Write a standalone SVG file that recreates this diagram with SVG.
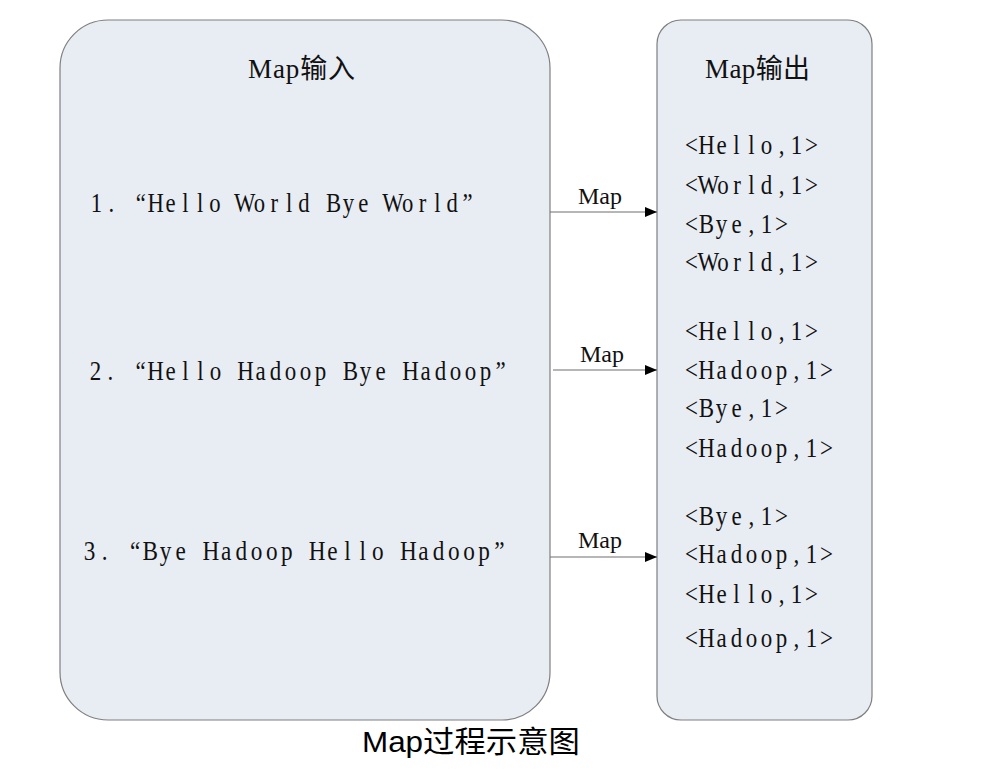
<svg xmlns="http://www.w3.org/2000/svg" width="997" height="772" viewBox="0 0 997 772">
<style>
.box{fill:#e8ecf3;stroke:#7f7f7f;stroke-width:1.2}
.t{font-family:"Liberation Serif","Noto Sans CJK SC",serif;font-size:27px;fill:#111}
.m{text-anchor:middle}
.lbl{font-family:"Liberation Serif",serif;font-size:24px;fill:#111}
.cap{font-family:"Liberation Sans","Noto Sans CJK SC",sans-serif;font-size:30px;fill:#000}
.c{stroke:#6f6f6f;stroke-width:1.2;fill:none}
</style>
<defs>
<marker id="ah" markerWidth="12" markerHeight="10" refX="12" refY="5" orient="auto" markerUnits="userSpaceOnUse">
<path d="M0,0 L12,5 L0,10 Z" fill="#000"/>
</marker>
</defs>
<rect width="997" height="772" fill="#fff"/>
<g id="map-input">
<rect class="box" x="60" y="20" width="490" height="700" rx="48" ry="48"/>
<text class="t" x="248" y="78" textLength="107" lengthAdjust="spacing">Map输入</text>
<text class="t m" transform="translate(89,212) scale(0.84,1)" y="0" x="8.82 26.47 61.76 79.41 97.06 114.71 132.35 150 167.65 185.29 202.94 220.59 238.24 255.88 273.53 291.18 308.82 326.47 344.12 361.76 379.41 397.06 414.71 432.35 450.5">1.“Hello World Bye World”</text>
<text class="t m" transform="translate(88,380) scale(0.85,1)" y="0" x="8.82 26.47 61.76 79.41 97.06 114.71 132.35 150 167.65 185.29 202.94 220.59 238.24 255.88 273.53 291.18 308.82 326.47 344.12 361.76 379.41 397.06 414.71 432.35 450 467.65 485.5">2.“Hello Hadoop Bye Hadoop”</text>
<text class="t m" transform="translate(82,560) scale(0.86,1)" y="0" x="8.82 26.47 61.76 79.41 97.06 114.71 132.35 150 167.65 185.29 202.94 220.59 238.24 255.88 273.53 291.18 308.82 326.47 344.12 361.76 379.41 397.06 414.71 432.35 450 467.65 485.5">3.“Bye Hadoop Hello Hadoop”</text>
</g>
<g id="map-output">
<rect class="box" x="657" y="20" width="215" height="700" rx="24" ry="24"/>
<text class="t" x="705" y="78" textLength="105" lengthAdjust="spacing">Map输出</text>
<text class="t m" transform="translate(684,154) scale(0.85,1)" y="0" x="8.82 26.47 44.12 61.76 79.41 97.06 114.71 132.35 150">&lt;Hello,1&gt;</text>
<text class="t m" transform="translate(684,194) scale(0.85,1)" y="0" x="8.82 28.5 46 62.5 79.41 97.06 114.71 132.35 150">&lt;World,1&gt;</text>
<text class="t m" transform="translate(684,233) scale(0.85,1)" y="0" x="8.82 26.47 44.12 61.76 79.41 97.06 114.71">&lt;Bye,1&gt;</text>
<text class="t m" transform="translate(684,271) scale(0.85,1)" y="0" x="8.82 28.5 46 62.5 79.41 97.06 114.71 132.35 150">&lt;World,1&gt;</text>
<text class="t m" transform="translate(684,340) scale(0.85,1)" y="0" x="8.82 26.47 44.12 61.76 79.41 97.06 114.71 132.35 150">&lt;Hello,1&gt;</text>
<text class="t m" transform="translate(684,379) scale(0.85,1)" y="0" x="8.82 26.47 44.12 61.76 79.41 97.06 114.71 132.35 150 167.65">&lt;Hadoop,1&gt;</text>
<text class="t m" transform="translate(684,417) scale(0.85,1)" y="0" x="8.82 26.47 44.12 61.76 79.41 97.06 114.71">&lt;Bye,1&gt;</text>
<text class="t m" transform="translate(684,457) scale(0.85,1)" y="0" x="8.82 26.47 44.12 61.76 79.41 97.06 114.71 132.35 150 167.65">&lt;Hadoop,1&gt;</text>
<text class="t m" transform="translate(684,525) scale(0.85,1)" y="0" x="8.82 26.47 44.12 61.76 79.41 97.06 114.71">&lt;Bye,1&gt;</text>
<text class="t m" transform="translate(684,563) scale(0.85,1)" y="0" x="8.82 26.47 44.12 61.76 79.41 97.06 114.71 132.35 150 167.65">&lt;Hadoop,1&gt;</text>
<text class="t m" transform="translate(684,603) scale(0.85,1)" y="0" x="8.82 26.47 44.12 61.76 79.41 97.06 114.71 132.35 150">&lt;Hello,1&gt;</text>
<text class="t m" transform="translate(684,647) scale(0.85,1)" y="0" x="8.82 26.47 44.12 61.76 79.41 97.06 114.71 132.35 150 167.65">&lt;Hadoop,1&gt;</text>
</g>
<g id="connectors">
<line class="c" x1="550" y1="212" x2="657" y2="212" marker-end="url(#ah)"/>
<line class="c" x1="553" y1="370" x2="657" y2="370" marker-end="url(#ah)"/>
<line class="c" x1="550" y1="557" x2="657" y2="557" marker-end="url(#ah)"/>
<text class="lbl" x="578" y="204">Map</text>
<text class="lbl" x="580" y="362">Map</text>
<text class="lbl" x="578" y="548">Map</text>
</g>
<text class="cap" x="362" y="752" textLength="218" lengthAdjust="spacingAndGlyphs">Map过程示意图</text>
</svg>
